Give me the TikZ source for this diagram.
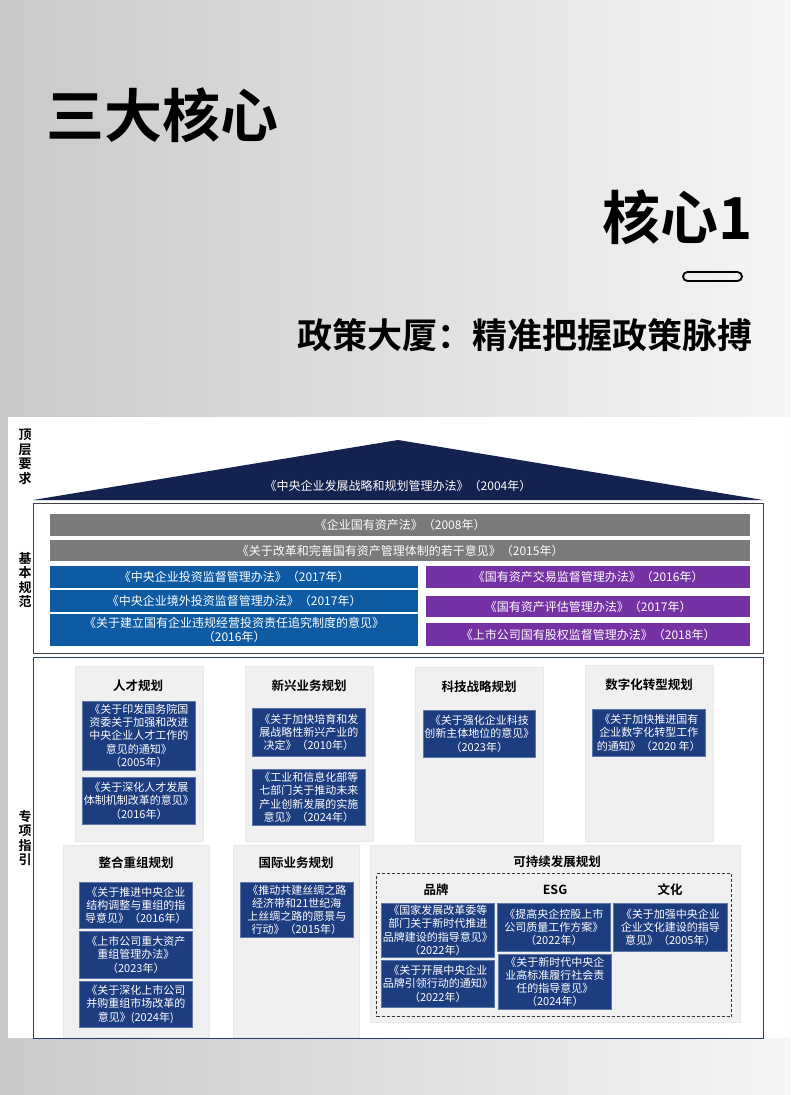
\documentclass[tikz,border=0pt]{standalone}
\usepackage{fontspec}
\setmainfont{Noto Sans CJK SC}[BoldFont={* Bold}]
\usetikzlibrary{positioning}
\definecolor{RoofNavy}{HTML}{13224F}
\definecolor{BarGray}{HTML}{7A7A7A}
\definecolor{LawBlue}{HTML}{0F5BA3}
\definecolor{LawPurple}{HTML}{7432A4}
\definecolor{DocNavy}{HTML}{1C3D7F}
\definecolor{DocEdge}{HTML}{5B78A8}
\definecolor{PanelGray}{HTML}{F0F0F0}
\definecolor{FrameNavy}{HTML}{2E3C6E}
\newcommand{\boxfont}{\fontsize{11}{13.2}\selectfont}
\newcommand{\barfont}{\fontsize{12}{13.5}\selectfont}
\tikzset{
    % Horizontal law bars of the base
    lawbar/.style={
        rectangle,
        anchor=north west,
        inner sep=0pt,
        text=white,
        align=center,
        font=\barfont
    },
    % Blue document boxes in the panels
    docbox/.style={
        rectangle,
        anchor=north west,
        draw=DocEdge,
        fill=DocNavy,
        line width=0.6pt,
        inner sep=0pt,
        text=white,
        minimum width=113,
        align=center,
        font=\boxfont
    },
    panel/.style={
        rectangle,
        anchor=north west,
        draw=gray!18,
        fill=PanelGray,
        inner sep=0pt
    },
    paneltitle/.style={
        inner sep=0pt,
        font=\fontsize{12.5}{14}\selectfont\bfseries
    },
    sidelabel/.style={
        inner sep=0pt,
        align=center,
        font=\fontsize{13}{14.5}\selectfont\bfseries
    },
    frame/.style={
        rectangle,
        anchor=north west,
        inner sep=0pt,
        line width=1pt
    }
}
\begin{document}
\begin{tikzpicture}[x=1pt, y=-1pt]
    \useasboundingbox (0,0) rectangle (790,1095);
    % Page background
    \shade[left color=black!21, right color=black!4] (0,0) rectangle (790,1095);

    % Headings
    \node[anchor=west, inner sep=0pt, font=\fontsize{58}{60}\selectfont\bfseries] (mainTitle) at (46,115) {三大核心};
    \node[anchor=east, inner sep=0pt, font=\fontsize{58}{60}\selectfont\bfseries] (coreTitle) at (753,217) {核心1};
    \node[rectangle, draw=black, line width=1.8pt, rounded corners=4.5pt, minimum width=59, minimum height=9, inner sep=0pt] (pill) at (712.5,276.5) {};
    \node[anchor=east, inner sep=0pt, font=\fontsize{35}{37}\selectfont\bfseries] (subTitle) at (753,335) {政策大厦：精准把握政策脉搏};

    % Diagram sheet
    \fill[white] (8,417) rectangle (790,1038);

    % Side labels
    \node[sidelabel] (topLabel) at (25,457) {顶\\层\\要\\求};
    \node[sidelabel] (baseLabel) at (25,580) {基\\本\\规\\范};
    \node[sidelabel] (guideLabel) at (25,838) {专\\项\\指\\引};

    % Roof
    \fill[RoofNavy] (33,500) -- (398,440) -- (763,500) -- cycle;
    \node[text=white, font=\barfont] (roofLaw) at (398,486) {《中央企业发展战略和规划管理办法》（2004年）};

    % Basic norms
    \node[frame, draw=black!75, minimum width=730, minimum height=150] (baseFrame) at (33,503) {};
    \node[lawbar, fill=BarGray, minimum width=700, minimum height=22] (lawA) at (50,514) {《企业国有资产法》（2008年）};
    \node[lawbar, fill=BarGray, minimum width=700, minimum height=21] (lawB) at (50,540) {《关于改革和完善国有资产管理体制的若干意见》（2015年）};
    \node[lawbar, fill=LawBlue, minimum width=368, minimum height=22] (invA) at (50,566) {《中央企业投资监督管理办法》（2017年）};
    \node[lawbar, fill=LawBlue, minimum width=368, minimum height=22] (invB) at (50,590) {《中央企业境外投资监督管理办法》（2017年）};
    \node[lawbar, fill=LawBlue, minimum width=368, minimum height=32] (invC) at (50,614) {《关于建立国有企业违规经营投资责任追究制度的意见》\\（2016年）};
    \node[lawbar, fill=LawPurple, minimum width=324, minimum height=22] (assetA) at (426,566) {《国有资产交易监督管理办法》（2016年）};
    \node[lawbar, fill=LawPurple, minimum width=324, minimum height=21] (assetB) at (426,596) {《国有资产评估管理办法》（2017年）};
    \node[lawbar, fill=LawPurple, minimum width=324, minimum height=23] (assetC) at (426,623) {《上市公司国有股权监督管理办法》（2018年）};

    % Special guidance
    \node[frame, draw=FrameNavy, minimum width=730, minimum height=381] (guideFrame) at (33,657) {};

    % Talent
    \node[panel, minimum width=128, minimum height=175] (talent) at (75,666) {};
    \node[paneltitle] (talentTitle) at (138,686) {人才规划};
    \node[docbox, minimum height=69] (talentA) at (82,701) {《关于印发国务院国\\资委关于加强和改进\\中央企业人才工作的\\意见的通知》\\（2005年）};
    \node[docbox, minimum height=47] (talentB) at (82,777) {《关于深化人才发展\\体制机制改革的意见》\\（2016年）};

    % Emerging business
    \node[panel, minimum width=128, minimum height=175] (emerging) at (245,666) {};
    \node[paneltitle] (emergingTitle) at (309,686) {新兴业务规划};
    \node[docbox, minimum height=48] (emergingA) at (252,708) {《关于加快培育和发\\展战略性新兴产业的\\决定》（2010年）};
    \node[docbox, minimum height=56] (emergingB) at (252,769) {《工业和信息化部等\\七部门关于推动未来\\产业创新发展的实施\\意见》（2024年）};

    % Science and technology
    \node[panel, minimum width=128, minimum height=174] (tech) at (415,667) {};
    \node[paneltitle] (techTitle) at (479,687) {科技战略规划};
    \node[docbox, minimum height=47, minimum width=112] (techA) at (423,710) {《关于强化企业科技\\创新主体地位的意见》\\（2023年）};

    % Digital transformation
    \node[panel, minimum width=128, minimum height=176] (digital) at (585,665) {};
    \node[paneltitle] (digitalTitle) at (649,685) {数字化转型规划};
    \node[docbox, minimum height=47] (digitalA) at (592,709) {《关于加快推进国有\\企业数字化转型工作\\的通知》（2020 年）};

    % Integration and restructuring
    \node[panel, minimum width=146, minimum height=192] (merger) at (63,845) {};
    \node[paneltitle] (mergerTitle) at (136,863) {整合重组规划};
    \node[docbox, minimum height=46] (mergerA) at (79,882) {《关于推进中央企业\\结构调整与重组的指\\导意见》（2016年）};
    \node[docbox, minimum height=47] (mergerB) at (79,931) {《上市公司重大资产\\重组管理办法》\\（2023年）};
    \node[docbox, minimum height=46] (mergerC) at (79,981) {《关于深化上市公司\\并购重组市场改革的\\意见》(2024年)};

    % International business
    \node[panel, minimum width=126, minimum height=192] (global) at (233,845) {};
    \node[paneltitle] (globalTitle) at (296,863) {国际业务规划};
    \node[docbox, minimum height=55] (globalA) at (240,882) {《推动共建丝绸之路\\经济带和21世纪海\\上丝绸之路的愿景与\\行动》（2015年）};

    % Sustainable development
    \node[panel, minimum width=370, minimum height=177] (sustain) at (370,845) {};
    \node[paneltitle] (sustainTitle) at (557,862) {可持续发展规划};
    \node[frame, draw=black!80, line width=1.1pt, dash pattern=on 3pt off 2pt, minimum width=355, minimum height=143] (sustainGroup) at (376,873) {};
    \node[paneltitle] (brandTitle) at (436,890) {品牌};
    \node[paneltitle] (esgTitle) at (555,890) {ESG};
    \node[paneltitle] (cultureTitle) at (670,890) {文化};
    \node[docbox, minimum height=54] (brandA) at (381,903) {《国家发展改革委等\\部门关于新时代推进\\品牌建设的指导意见》\\（2022年）};
    \node[docbox, minimum height=47] (brandB) at (381,960) {《关于开展中央企业\\品牌引领行动的通知》\\（2022年）};
    \node[docbox, minimum height=48] (esgA) at (497,903) {《提高央企控股上市\\公司质量工作方案》\\（2022年）};
    \node[docbox, minimum height=55] (esgB) at (498,954) {《关于新时代中央企\\业高标准履行社会责\\任的指导意见》\\（2024年）};
    \node[docbox, minimum height=48, minimum width=114] (cultureA) at (613,903) {《关于加强中央企业\\企业文化建设的指导\\意见》（2005年）};
\end{tikzpicture}
\end{document}
